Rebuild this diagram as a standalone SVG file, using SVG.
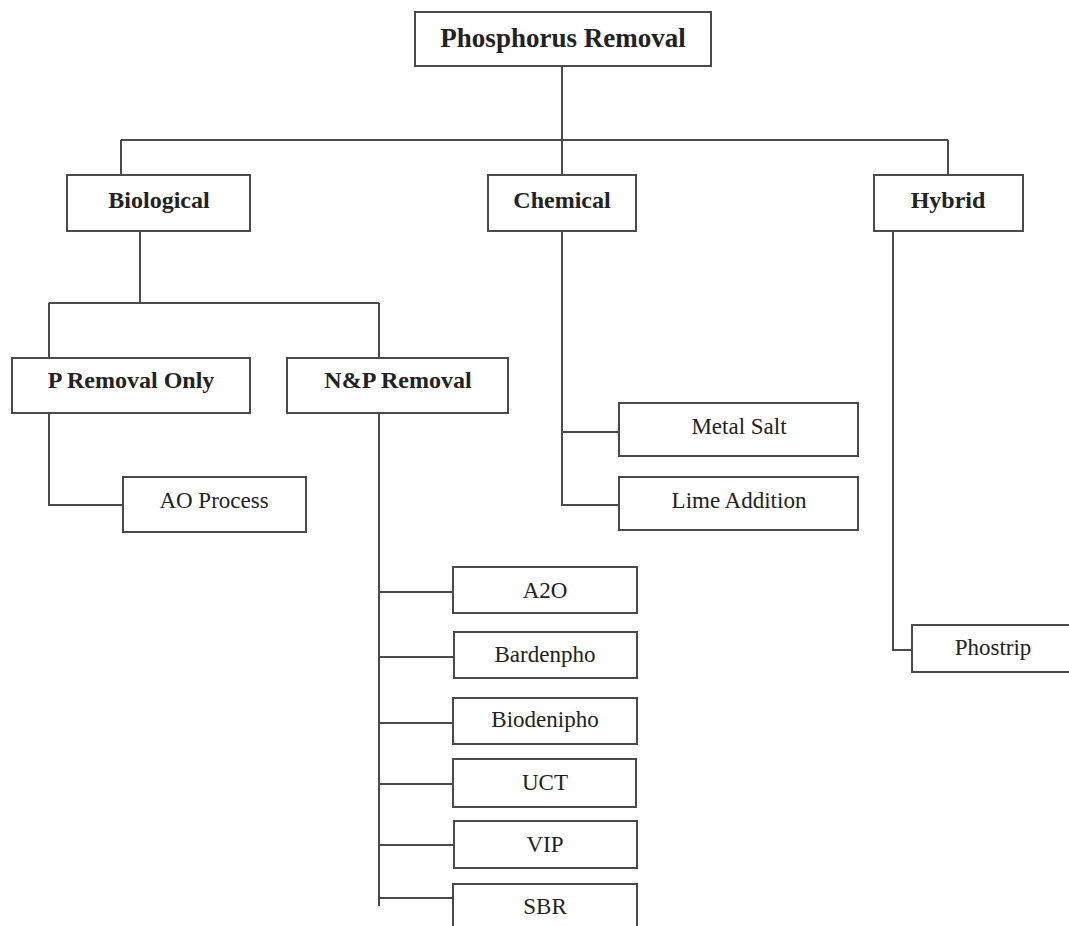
<svg xmlns="http://www.w3.org/2000/svg" width="1069" height="926" viewBox="0 0 1069 926">
<style>
.box{fill:#fff;stroke:#4a4a4a;stroke-width:2}
.ln{fill:none;stroke:#4a4a4a;stroke-width:2}
text{font-family:"Liberation Serif","Times New Roman",serif;fill:#222;text-anchor:middle}
.b{font-weight:bold;font-size:24px}
.r{font-size:23px}
.t{font-weight:bold;font-size:27px}
</style>
<rect width="1069" height="926" fill="#fff"/>
<g id="connectors" class="ln">
<path d="M562 66V140M121 140H948M121 140V175M562 140V175M948 140V175"/>
<path d="M140 231V303M49 303H379M49 303V358M379 303V358"/>
<path d="M49 413V505H123"/>
<path d="M379 413V906M379 592H453M379 657H454M379 723H453M379 784H453M379 845H454M379 898H453"/>
<path d="M562 231V505H619M562 432H619"/>
<path d="M893 231V650H912"/>
</g>
<g id="n-root"><rect class="box" x="415" y="12" width="296" height="54"/><text class="t" x="563" y="47">Phosphorus Removal</text></g>
<g id="n-biological"><rect class="box" x="67" y="175" width="183" height="56"/><text class="b" x="159" y="208">Biological</text></g>
<g id="n-chemical"><rect class="box" x="488" y="175" width="148" height="56"/><text class="b" x="562" y="208">Chemical</text></g>
<g id="n-hybrid"><rect class="box" x="874" y="175" width="149" height="56"/><text class="b" x="948" y="208">Hybrid</text></g>
<g id="n-ponly"><rect class="box" x="12" y="358" width="238" height="55"/><text class="b" x="131" y="388">P Removal Only</text></g>
<g id="n-np"><rect class="box" x="287" y="358" width="221" height="55"/><text class="b" x="398" y="388">N&amp;P Removal</text></g>
<g id="n-ao"><rect class="box" x="123" y="477" width="183" height="55"/><text class="r" x="214" y="508">AO Process</text></g>
<g id="n-metal"><rect class="box" x="619" y="403" width="239" height="53"/><text class="r" x="739" y="434">Metal Salt</text></g>
<g id="n-lime"><rect class="box" x="619" y="477" width="239" height="53"/><text class="r" x="739" y="508">Lime Addition</text></g>
<g id="n-phostrip"><rect class="box" x="912" y="625" width="160" height="47"/><text class="r" x="993" y="655">Phostrip</text></g>
<g id="n-a2o"><rect class="box" x="453" y="567" width="184" height="46"/><text class="r" x="545" y="598">A2O</text></g>
<g id="n-bardenpho"><rect class="box" x="454" y="632" width="183" height="46"/><text class="r" x="545" y="662">Bardenpho</text></g>
<g id="n-biodenipho"><rect class="box" x="453" y="698" width="184" height="46"/><text class="r" x="545" y="727">Biodenipho</text></g>
<g id="n-uct"><rect class="box" x="453" y="759" width="183" height="48"/><text class="r" x="545" y="790">UCT</text></g>
<g id="n-vip"><rect class="box" x="454" y="821" width="183" height="47"/><text class="r" x="545" y="852">VIP</text></g>
<g id="n-sbr"><rect class="box" x="453" y="884" width="184" height="60"/><text class="r" x="545" y="914">SBR</text></g>
</svg>
